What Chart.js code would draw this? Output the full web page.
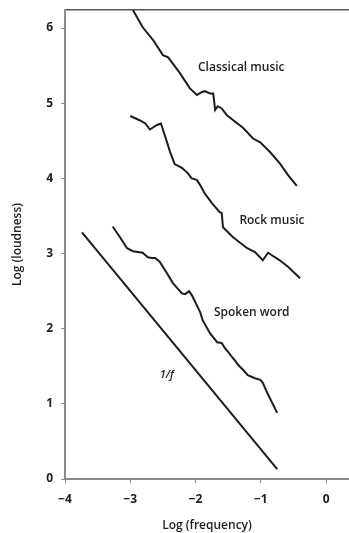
<!DOCTYPE html>
<html>
<head>
<meta charset="utf-8">
<script src="https://cdn.jsdelivr.net/npm/chart.js@4/dist/chart.umd.min.js"></script>
<style>
  html, body { margin: 0; padding: 0; background: #fff; }
  #wrap { width: 349px; height: 533px; }
</style>
</head>
<body>
<div id="wrap"><canvas id="loudness"></canvas></div>
<script>
// log(frequency) vs log(loudness)
const classicalX = [-2.96, -2.81, -2.65, -2.50, -2.42, -2.24, -2.09, -1.98, -1.90, -1.86, -1.78, -1.73, -1.70, -1.66, -1.60, -1.52, -1.27, -1.12, -1.01, -0.86, -0.71, -0.58, -0.45]
const classicalY = [6.24, 6.01, 5.84, 5.64, 5.61, 5.40, 5.20, 5.11, 5.15, 5.16, 5.13, 5.13, 4.91, 4.96, 4.93, 4.84, 4.67, 4.53, 4.48, 4.35, 4.20, 4.04, 3.90]

const rockX = [-3.00, -2.85, -2.77, -2.70, -2.59, -2.53, -2.47, -2.39, -2.32, -2.21, -2.12, -2.06, -1.98, -1.93, -1.86, -1.75, -1.63, -1.60, -1.58, -1.43, -1.21, -1.09, -0.97, -0.89, -0.71, -0.58, -0.40]
const rockY = [4.83, 4.77, 4.73, 4.65, 4.71, 4.73, 4.57, 4.35, 4.19, 4.14, 4.07, 4.00, 3.98, 3.91, 3.80, 3.67, 3.55, 3.54, 3.35, 3.22, 3.07, 3.02, 2.91, 3.01, 2.91, 2.82, 2.67]

const spokenX = [-3.27, -3.16, -3.05, -2.96, -2.81, -2.73, -2.67, -2.62, -2.55, -2.44, -2.35, -2.21, -2.16, -2.10, -2.06, -1.93, -1.89, -1.78, -1.67, -1.60, -1.55, -1.50, -1.44, -1.40, -1.35, -1.27, -1.20, -1.09, -1.01, -0.97, -0.91, -0.75]
const spokenY = [3.36, 3.22, 3.07, 3.03, 3.01, 2.95, 2.94, 2.94, 2.89, 2.74, 2.61, 2.47, 2.46, 2.50, 2.45, 2.22, 2.11, 1.94, 1.82, 1.81, 1.74, 1.69, 1.62, 1.58, 1.52, 1.45, 1.38, 1.34, 1.32, 1.28, 1.16, 0.88]

const oneOverFX = [-3.74, -0.75]
const oneOverFY = [3.28, 0.13]

const xTicks = [-4, -3, -2, -1, 0]
const yTicks = [0, 1, 2, 3, 4, 5, 6]

const curveLabels = ['Classical music', 'Rock music', 'Spoken word', '1/f']
const labelX = [-1.30, -0.83, -1.14, -2.44]
const labelY = [5.47, 3.44, 2.21, 1.38]

const ink = '#1c1c1c'
const axisGrey = '#8a8a8a'

function pts(xs, ys) {
    return xs.map((x, i) => ({ x: x, y: ys[i] }))
}

function lineSet(name, xs, ys) {
    return {
        label: name,
        data: pts(xs, ys),
        borderColor: ink,
        borderWidth: 2,
        pointRadius: 0,
        tension: 0,
        fill: false
    }
}

// curve names written next to each line
const curveText = {
    id: 'curveText',
    afterDatasetsDraw(chart) {
        const ctx = chart.ctx
        const xs = chart.scales.x
        const ys = chart.scales.y
        ctx.save()
        ctx.fillStyle = '#1e1e1e'
        ctx.textAlign = 'center'
        ctx.textBaseline = 'middle'
        curveLabels.forEach((t, i) => {
            ctx.font = (t === '1/f' ? 'italic 600 11px' : '600 12px') + ' "Open Sans", sans-serif'
            ctx.fillText(t, xs.getPixelForValue(labelX[i]), ys.getPixelForValue(labelY[i]))
        })
        ctx.restore()
    }
}

const config = {
    type: 'line',
    data: {
        datasets: [
            lineSet('Classical music', classicalX, classicalY),
            lineSet('Rock music', rockX, rockY),
            lineSet('Spoken word', spokenX, spokenY),
            lineSet('1/f', oneOverFX, oneOverFY)
        ]
    },
    options: {
        responsive: true,
        maintainAspectRatio: false,
        animation: false,
        layout: { padding: { top: 10, right: 0, left: 0, bottom: 0 } },
        plugins: {
            legend: { display: false },
            tooltip: { enabled: false }
        },
        scales: {
            x: {
                type: 'linear',
                min: -4,
                max: 0.35,
                afterBuildTicks: (scale) => { scale.ticks = xTicks.map(v => ({ value: v })) },
                afterFit: (scale) => { scale.height = 54 },
                border: { display: true, color: axisGrey, width: 2 },
                grid: { drawOnChartArea: false, tickLength: 4, color: axisGrey, lineWidth: 1 },
                ticks: {
                    color: '#1e1e1e',
                    padding: 9,
                    font: { family: '"Open Sans", sans-serif', size: 12, weight: 'bold' },
                    callback: (v) => v < 0 ? '\u2212' + Math.abs(v) : String(v)
                },
                title: {
                    display: true,
                    text: 'Log (frequency)',
                    color: '#1e1e1e',
                    padding: { top: 6, bottom: 0 },
                    font: { family: '"Open Sans", sans-serif', size: 12, weight: '600' }
                }
            },
            xTop: {
                type: 'linear',
                position: 'top',
                min: -4,
                max: 0.35,
                afterFit: (scale) => { scale.height = 0 },
                border: { display: true, color: '#555', width: 1.5 },
                grid: { display: false },
                ticks: { display: false }
            },
            y: {
                type: 'linear',
                min: 0,
                max: 6.24,
                afterBuildTicks: (scale) => { scale.ticks = yTicks.map(v => ({ value: v })) },
                afterFit: (scale) => {
                    scale.width = 65
                    scale.paddingTop = 0
                    scale.paddingBottom = 0
                },
                border: { display: true, color: axisGrey, width: 2 },
                grid: { drawOnChartArea: false, tickLength: 4, color: axisGrey, lineWidth: 1 },
                ticks: {
                    color: '#1e1e1e',
                    padding: 8,
                    font: { family: '"Open Sans", sans-serif', size: 12, weight: 'bold' }
                },
                title: {
                    display: true,
                    text: 'Log (loudness)',
                    color: '#1e1e1e',
                    padding: { top: 10, bottom: 0 },
                    font: { family: '"Open Sans", sans-serif', size: 12, weight: '600' }
                }
            }
        }
    },
    plugins: [curveText]
}

new Chart(document.getElementById('loudness'), config)
</script>
</body>
</html>
